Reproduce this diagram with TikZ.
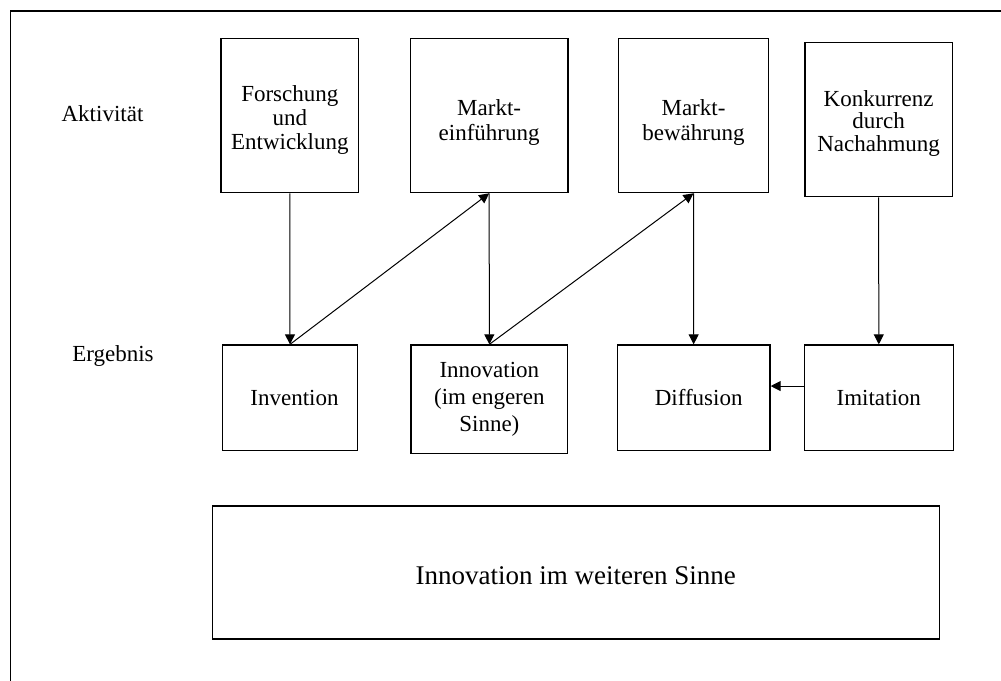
\documentclass[tikz,border=0pt]{standalone}
\usepackage{fontspec}
\setmainfont{Liberation Serif}
\usetikzlibrary{arrows.meta}
\begin{document}
\begin{tikzpicture}[x=0.5pt,y=-0.5pt,
  box/.style={draw, line width=0.6pt, rectangle, inner sep=0pt, align=center,
    font=\fontsize{11.5}{12}\selectfont},
  txt/.style={inner sep=0pt, align=center, font=\fontsize{11.5}{12}\selectfont},
  lbl/.style={inner sep=0pt, font=\fontsize{11.5}{12}\selectfont},
  arr/.style={line width=0.5pt, -{Triangle[length=5pt,width=5pt]}}]
\useasboundingbox (0,0) rectangle (1001,680);
% frame (open towards right and bottom)
\draw[line width=0.6pt] (10.5,690) -- (10.5,11) -- (1010,11);
% row labels
\node[lbl] (akt) at (102.5,114) {Aktivität};
\node[lbl] (erg) at (113,356) {Ergebnis};
% activities
\node[box, minimum width=68.9pt, minimum height=77.2pt] (fe) at (289.85,115.5) {};
\node[txt, yshift=-2.25pt] (fe-t) at (fe) {Forschung\\und\\Entwicklung};
\node[box, minimum width=78.9pt, minimum height=77.2pt] (me) at (489.15,115.5) {};
\node[txt, yshift=-3.5pt, font=\fontsize{11.5}{12.5}\selectfont] (me-t) at (me)
  {Markt-\\einführung};
\node[box, minimum width=74.8pt, minimum height=77.2pt] (mb) at (693.5,115.5) {};
\node[txt, yshift=-3.5pt, font=\fontsize{11.5}{12.5}\selectfont] (mb-t) at (mb)
  {Markt-\\bewährung};
\node[box, minimum width=73.7pt, minimum height=77.2pt] (kn) at (878.65,119.5) {};
\node[txt, yshift=-2pt, font=\fontsize{11.5}{11.5}\selectfont] (kn-t) at (kn)
  {Konkurrenz\\durch\\Nachahmung};
% results
\node[box, minimum width=67.7pt, minimum height=52.7pt] (inv) at (290,397.65)
  {\hspace*{4.5pt}Invention};
\node[box, minimum width=78.4pt, minimum height=54.4pt,
  font=\fontsize{11.5}{13.6}\selectfont] (inn) at (489.35,399.35)
  {Innovation\\(im engeren\\Sinne)};
\node[box, minimum width=76.4pt, minimum height=52.7pt] (dif) at (693.65,397.65)
  {\hspace*{5pt}Diffusion};
\node[box, minimum width=74.5pt, minimum height=52.7pt] (imi) at (878.8,397.65)
  {Imitation};
% overall
\node[box, minimum width=363.5pt, minimum height=66.5pt] (big) at (575.8,572.5) {};
\node[txt, yshift=-1.5pt, font=\fontsize{13.5}{14}\selectfont] (big-t) at (big)
  {Innovation im weiteren Sinne};
% connectors
\draw[arr] (fe.south) -- (inv.north);
\draw[arr] (inv.north) -- (me.south);
\draw[arr] (me.south) -- (inn.north);
\draw[arr] (inn.north) -- (mb.south);
\draw[arr] (mb.south) -- (dif.north);
\draw[arr] (kn.south) -- (imi.north);
\draw[arr] ([yshift=5.8pt]imi.west) -- ([yshift=5.8pt]dif.east);
\end{tikzpicture}
\end{document}
